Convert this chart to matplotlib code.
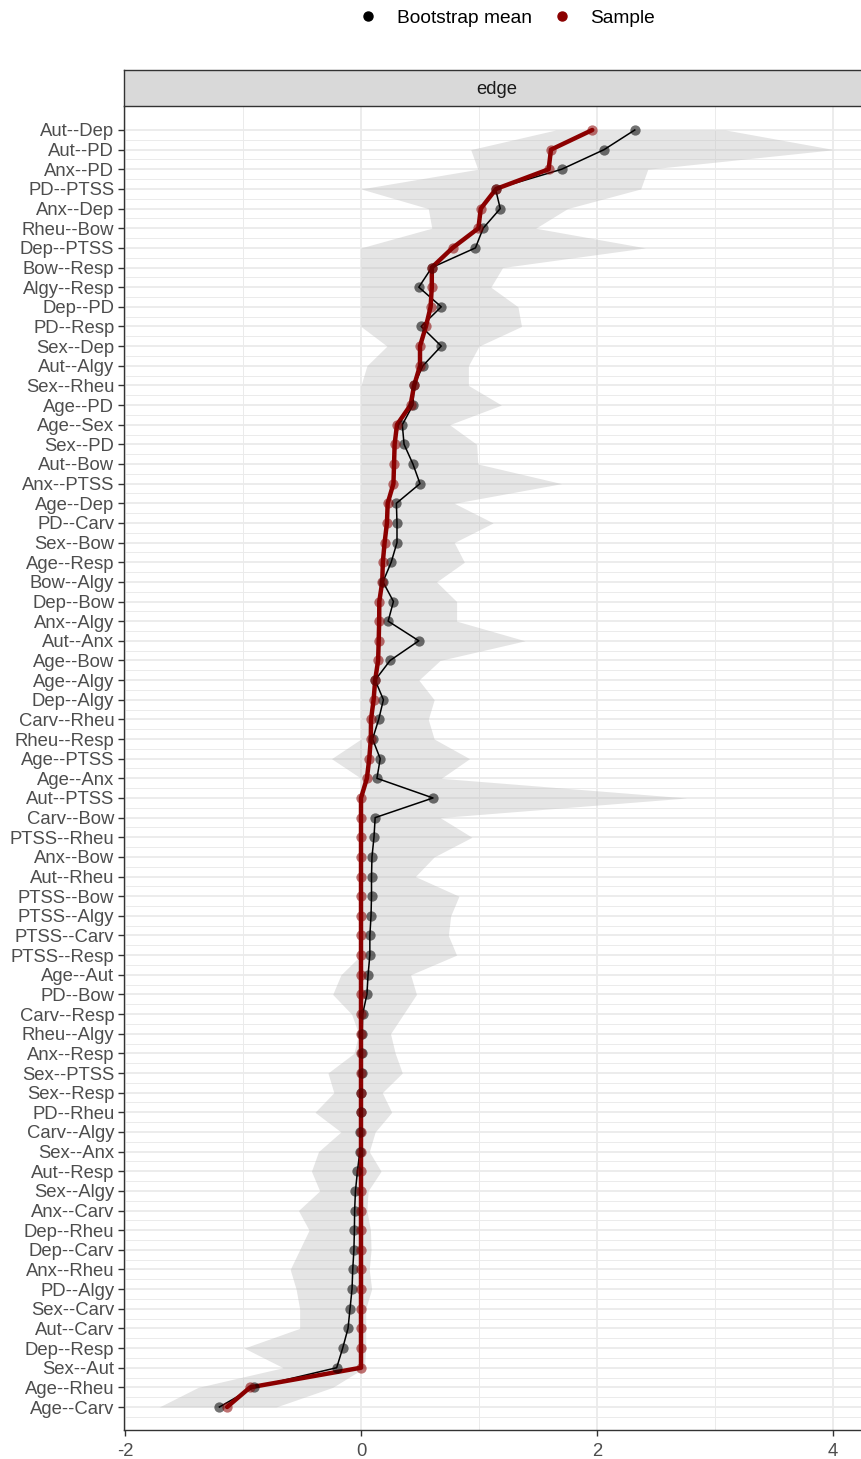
import numpy as np
import matplotlib
matplotlib.use("Agg")
import matplotlib.pyplot as plt
from matplotlib.lines import Line2D

plt.rcParams['font.family'] = ['Liberation Sans', 'DejaVu Sans']

edges = ["Aut--Dep", "Aut--PD", "Anx--PD", "PD--PTSS", "Anx--Dep", "Rheu--Bow",
         "Dep--PTSS", "Bow--Resp", "Algy--Resp", "Dep--PD", "PD--Resp", "Sex--Dep",
         "Aut--Algy", "Sex--Rheu", "Age--PD", "Age--Sex", "Sex--PD", "Aut--Bow",
         "Anx--PTSS", "Age--Dep", "PD--Carv", "Sex--Bow", "Age--Resp", "Bow--Algy",
         "Dep--Bow", "Anx--Algy", "Aut--Anx", "Age--Bow", "Age--Algy", "Dep--Algy",
         "Carv--Rheu", "Rheu--Resp", "Age--PTSS", "Age--Anx", "Aut--PTSS", "Carv--Bow",
         "PTSS--Rheu", "Anx--Bow", "Aut--Rheu", "PTSS--Bow", "PTSS--Algy", "PTSS--Carv",
         "PTSS--Resp", "Age--Aut", "PD--Bow", "Carv--Resp", "Rheu--Algy", "Anx--Resp",
         "Sex--PTSS", "Sex--Resp", "PD--Rheu", "Carv--Algy", "Sex--Anx", "Aut--Resp",
         "Sex--Algy", "Anx--Carv", "Dep--Rheu", "Dep--Carv", "Anx--Rheu", "PD--Algy",
         "Sex--Carv", "Aut--Carv", "Dep--Resp", "Sex--Aut", "Age--Rheu", "Age--Carv"]

sample = [1.96, 1.61, 1.59, 1.145, 1.015, 0.995, 0.776, 0.60, 0.60, 0.59, 0.55, 0.50,
          0.50, 0.45, 0.42, 0.305, 0.285, 0.28, 0.275, 0.226, 0.22, 0.20, 0.185, 0.18,
          0.155, 0.154, 0.15, 0.145, 0.12, 0.107, 0.085, 0.083, 0.07, 0.05, 0.0, 0.0,
          0.0, 0.0, 0.0, 0.0, 0.0, 0.0, 0.0, 0.0, 0.0, 0.0, 0.0, 0.0,
          0.0, 0.0, 0.0, 0.0, 0.0, 0.0, 0.0, 0.0, 0.0, 0.0, 0.0, 0.0,
          0.0, 0.0, 0.0, 0.0, -0.94, -1.135]

boot_mean = [2.32, 2.06, 1.70, 1.14, 1.18, 1.035, 0.97, 0.60, 0.49, 0.68, 0.51, 0.68,
             0.525, 0.45, 0.44, 0.35, 0.365, 0.44, 0.50, 0.30, 0.305, 0.305, 0.256, 0.186,
             0.275, 0.23, 0.49, 0.247, 0.12, 0.19, 0.15, 0.098, 0.163, 0.135, 0.61, 0.12,
             0.11, 0.093, 0.089, 0.089, 0.085, 0.075, 0.075, 0.06, 0.05, 0.014, 0.01, 0.005,
             0.005, 0.0, 0.0, -0.005, -0.01, -0.03, -0.047, -0.054, -0.056, -0.06, -0.07, -0.076,
             -0.093, -0.11, -0.155, -0.206, -0.91, -1.20]

ci_lower = [1.65, 0.93, 0.99, 0.0, 0.57, 0.60, 0.0, 0.0, 0.0, 0.0, 0.0, 0.22,
            0.05, 0.0, 0.0, 0.0, 0.0, 0.0, 0.0, 0.0, 0.0, 0.0, 0.0, 0.0,
            0.0, 0.0, 0.0, 0.0, 0.0, 0.0, 0.0, 0.0, -0.25, 0.0, 0.0, 0.0,
            0.0, 0.0, 0.0, 0.0, 0.0, 0.0, 0.0, -0.17, -0.24, -0.08, -0.02, -0.06,
            -0.28, -0.23, -0.39, -0.17, -0.36, -0.42, -0.35, -0.53, -0.44, -0.52, -0.60, -0.55,
            -0.52, -0.52, -0.99, -0.66, -1.38, -1.71]

ci_upper = [3.09, 4.01, 2.43, 2.37, 1.75, 1.48, 2.41, 1.20, 1.10, 1.33, 1.36, 1.00,
            0.91, 0.91, 1.19, 0.75, 0.98, 0.99, 1.70, 0.79, 1.12, 0.79, 0.876, 0.64,
            0.81, 0.81, 1.39, 0.67, 0.49, 0.62, 0.57, 0.62, 0.92, 0.68, 2.76, 0.67,
            0.94, 0.62, 0.46, 0.83, 0.76, 0.74, 0.81, 0.42, 0.47, 0.36, 0.25, 0.29,
            0.35, 0.18, 0.26, 0.12, 0.07, 0.17, 0.06, 0.05, 0.08, 0.085, 0.07, 0.09,
            0.04, 0.04, 0.04, 0.03, -0.24, -0.72]

x_ticks = [-2, 0, 2, 4]
x_minor = [-1, 1, 3]

W, H = 862, 1459
fig = plt.figure(figsize=(W / 100, H / 100), dpi=100)
fig.patch.set_facecolor("white")


def px_box(left, top, right, bottom):
    return [left / W, 1 - bottom / H, (right - left) / W, (bottom - top) / H]


ax = fig.add_axes(px_box(124, 106, 868, 1430))
strip = fig.add_axes(px_box(124, 70, 868, 106))

pos = np.arange(len(edges))
sample = np.array(sample)
boot_mean = np.array(boot_mean)

grid_col = "#EBEBEB"
for v in x_ticks:
    ax.axvline(v, color=grid_col, lw=1.3, zorder=0)
for v in x_minor:
    ax.axvline(v, color=grid_col, lw=0.7, zorder=0)
for p in pos:
    ax.axhline(p, color=grid_col, lw=1.3, zorder=0)
    ax.axhline(p + 0.5, color=grid_col, lw=0.7, zorder=0)

ax.fill_betweenx(pos, ci_lower, ci_upper, color="#BEBEBE", alpha=0.4, lw=0, zorder=1)

ax.plot(boot_mean, pos, color="black", lw=1.1, zorder=2)
ax.plot(sample, pos, color="#8B0000", lw=3.2, zorder=3, solid_capstyle="round")
ax.scatter(boot_mean, pos, s=55, color="black", alpha=0.55, lw=0, zorder=4)
ax.scatter(sample, pos, s=55, color="#8B0000", alpha=0.55, lw=0, zorder=5)

ax.set_xlim((124 - 361) / 118, (868 - 361) / 118)
ax.set_ylim(65 + (1430 - 1407) / 19.65, -(130 - 106) / 19.65)
ax.set_yticks(pos)
ax.set_yticklabels(edges)
ax.set_xticks(x_ticks)
ax.set_xticklabels([str(v) for v in x_ticks])
ax.tick_params(axis="both", labelsize=13.3, labelcolor="#4D4D4D", color="#333333",
               length=4.5, width=1.0)
ax.tick_params(axis="y", pad=2.5)
ax.tick_params(axis="x", pad=4.5)
for side in ["top", "right"]:
    ax.spines[side].set_visible(False)
for side in ["left", "bottom"]:
    ax.spines[side].set_color("#333333")
    ax.spines[side].set_linewidth(1.0)

strip.set_facecolor("#D9D9D9")
strip.set_xticks([])
strip.set_yticks([])
for side in ["left", "top", "bottom"]:
    strip.spines[side].set_color("#333333")
    strip.spines[side].set_linewidth(1.0)
strip.spines["right"].set_visible(False)
strip.text((497 - 124) / (868 - 124), 0.45, "edge", ha="center", va="center",
           fontsize=13.3, color="#1A1A1A", transform=strip.transAxes)

handles = [Line2D([], [], marker="o", ls="", color="black", ms=6.5),
           Line2D([], [], marker="o", ls="", color="#8B0000", ms=6.5)]
fig.legend(handles, ["Bootstrap mean", "Sample"], loc="center",
           bbox_to_anchor=(507 / W, 1 - 18 / H), ncol=2, frameon=False,
           fontsize=13.8, handlelength=1.0, handletextpad=1.0, columnspacing=1.05)

fig.savefig("out.png", dpi=100)
